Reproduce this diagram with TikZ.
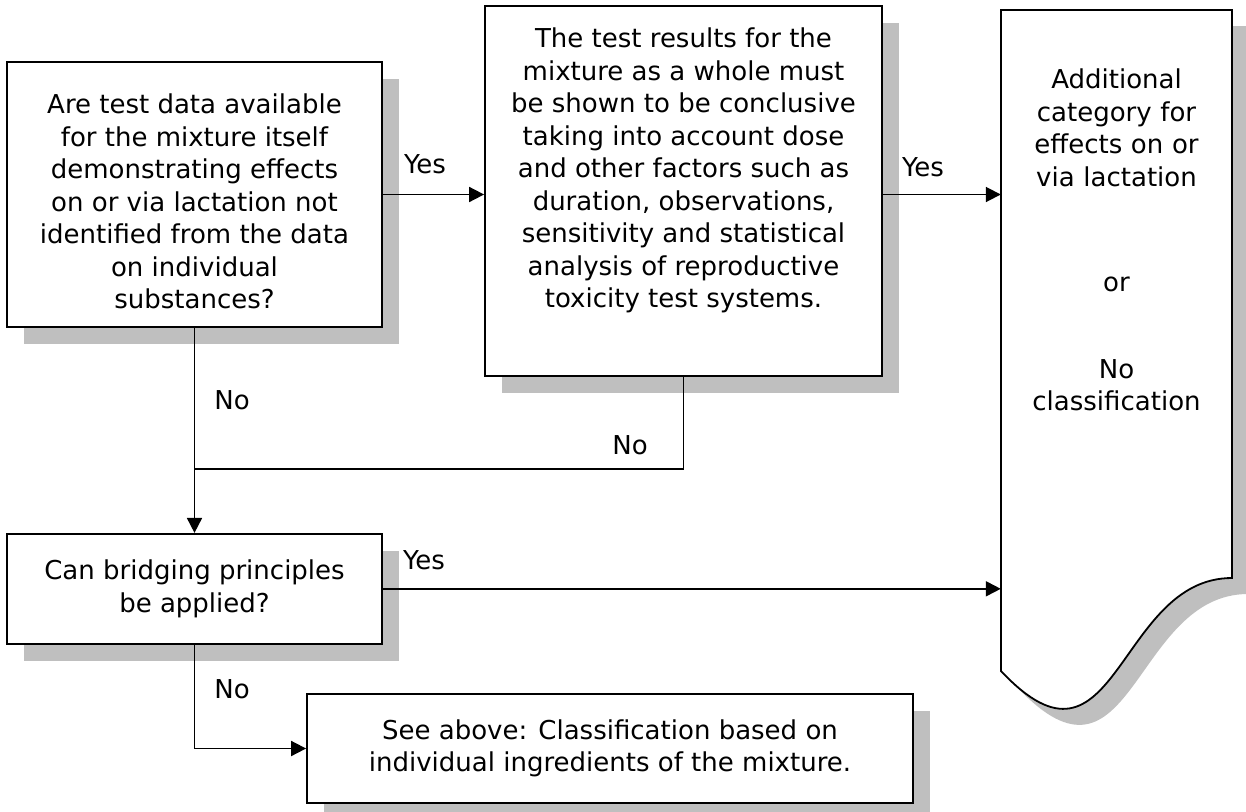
\documentclass[tikz,border=0pt]{standalone}
\usepackage{fontspec}
\setmainfont{DejaVu Sans}
\usetikzlibrary{positioning,arrows.meta,shadows}

\definecolor{shadowgray}{RGB}{191,191,191}
% outline of the document-shaped result box
\newcommand{\docoutline}{(1001,10) -- (1232,10) -- (1232,578)
  .. controls (1116.5,578) and (1116.5,794) .. (1001,671) -- cycle}

\begin{document}
\begin{tikzpicture}[
    x=1pt, y=-1pt,
    font=\fontsize{26}{32.5}\selectfont,
    box/.style={draw, line width=1.8pt, fill=white, align=center, inner sep=0pt,
      drop shadow={shadow xshift=17pt, shadow yshift=-17pt, fill=shadowgray, opacity=1}},
    arrow/.style={-{Triangle[length=15pt,width=15pt]}, line width=1.8pt},
    line/.style={line width=1.8pt},
    lbl/.style={inner sep=0pt}
  ]
    \useasboundingbox (0,0) rectangle (1246,811);

    \node[box, minimum width=375pt, minimum height=265pt] (q1) at (194.5,194.5)
      {\mbox{}\\[1pt]Are test data available\\for the mixture itself\\demonstrating effects\\on or via lactation not\\identified from the data\\on individual\\substances?};
    \node[box, minimum width=397pt, minimum height=370pt] (res) at (683.5,191)
      {The test results for the\\mixture as a whole must\\be shown to be conclusive\\taking into account dose\\and other factors such as\\duration, observations,\\sensitivity and statistical\\analysis of reproductive\\toxicity test systems.\\[13.5pt]\mbox{}};
    \node[box, minimum width=375pt, minimum height=110pt, below=205pt of q1] (bridge)
      {Can bridging principles\\be applied?};
    \node[box, minimum width=606pt, minimum height=109pt] (see) at (610,748.5)
      {See above: Classification based on\\individual ingredients of the mixture.};

    % document shape on the right
    \fill[shadowgray, shift={(16,16)}] \docoutline;
    \draw[line, fill=white] \docoutline;
    \node[align=center, text width=231pt, inner sep=0pt, anchor=north] (cat) at (1116.5,69)
      {Additional\\category for\\effects on or\\via lactation\\[73pt]or\\[54pt]No\\classification};

    \coordinate (join) at (194.5,469);

    \draw[arrow] (q1.east) -- (q1.east -| res.west);
    \draw[arrow] (res.east |- q1.east) -- (q1.east -| cat.west);
    \draw[arrow] (bridge.east) -- (bridge.east -| cat.west);
    \draw[arrow] (q1.south) -- (bridge.north);
    \draw[line] (res.south) |- (join);
    \draw[arrow] (bridge.south) |- (see.west);

    \node[lbl] (yes1) at (425,164) {Yes};
    \node[lbl] (yes2) at (923,167) {Yes};
    \node[lbl] (yes3) at (424,560) {Yes};
    \node[lbl] (no1) at (232,400) {No};
    \node[lbl] (no2) at (630,445) {No};
    \node[lbl] (no3) at (232,689) {No};
\end{tikzpicture}
\end{document}
